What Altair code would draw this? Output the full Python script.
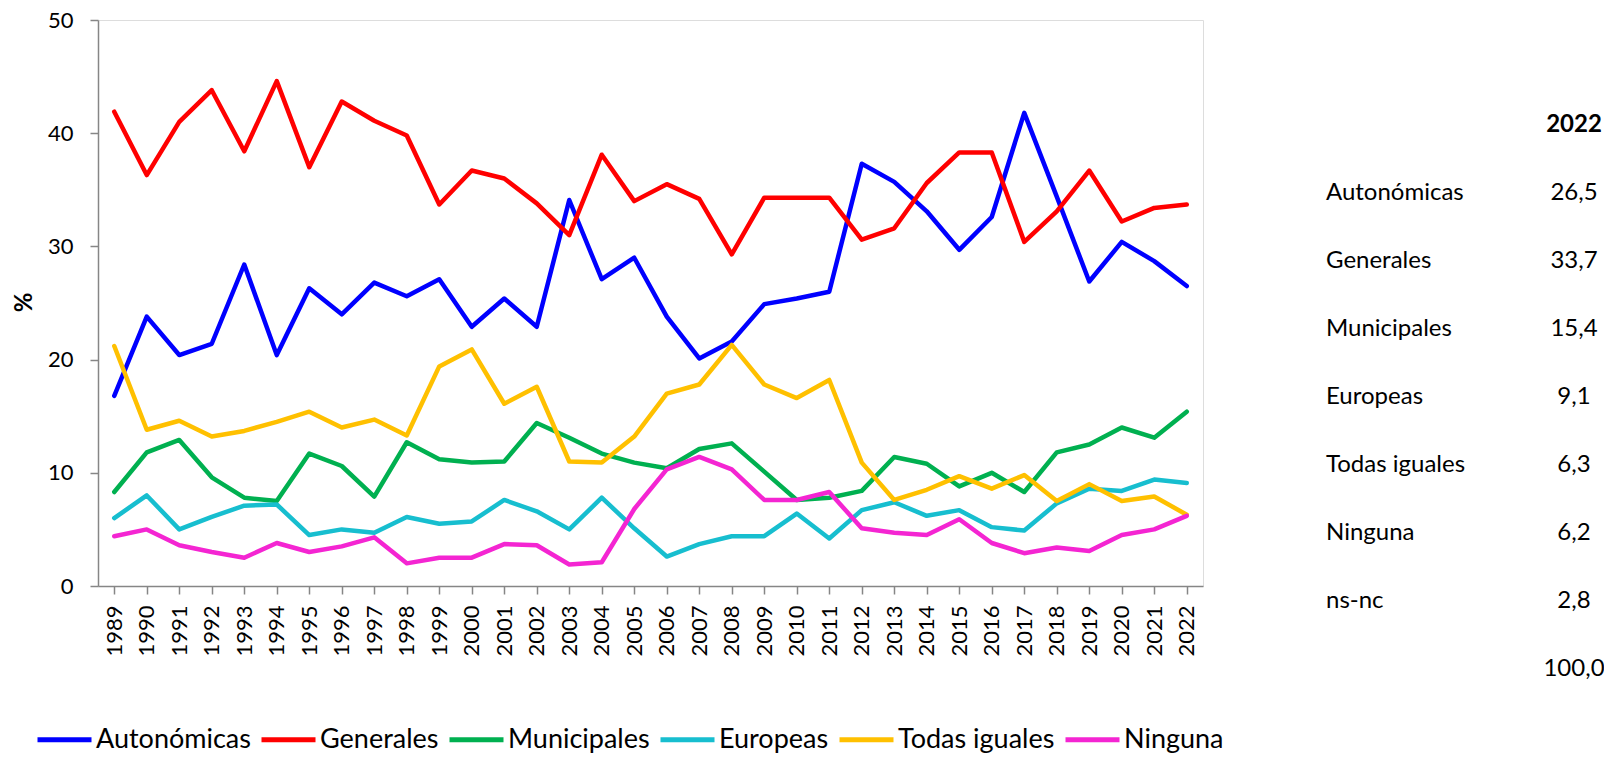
import altair as alt
import pandas as pd

# ---------------- data ----------------
years = list(range(1989, 2023))
series_names = ["Autonómicas", "Generales", "Municipales", "Europeas", "Todas iguales", "Ninguna"]
series_colors = ["#0000FF", "#FF0000", "#00B050", "#17BECF", "#FFC000", "#F425D2"]

autonomicas = [16.8, 23.8, 20.4, 21.4, 28.4, 20.4, 26.3, 24.0, 26.8, 25.6, 27.1, 22.9, 25.4, 22.9, 34.1, 27.1,
               29.0, 23.8, 20.1, 21.6, 24.9, 25.4, 26.0, 37.3, 35.7, 33.1, 29.7, 32.6, 41.8, 34.4, 26.9, 30.4, 28.7, 26.5]
generales = [41.9, 36.3, 41.0, 43.8, 38.4, 44.6, 37.0, 42.8, 41.1, 39.8, 33.7, 36.7, 36.0, 33.8, 31.0, 38.1,
             34.0, 35.5, 34.2, 29.3, 34.3, 34.3, 34.3, 30.6, 31.6, 35.6, 38.3, 38.3, 30.4, 33.1, 36.7, 32.2, 33.4, 33.7]
municipales = [8.3, 11.8, 12.9, 9.6, 7.8, 7.5, 11.7, 10.6, 7.9, 12.7, 11.2, 10.9, 11.0, 14.4, 13.1, 11.7,
               10.9, 10.4, 12.1, 12.6, 10.1, 7.6, 7.8, 8.4, 11.4, 10.8, 8.8, 10.0, 8.3, 11.8, 12.5, 14.0, 13.1, 15.4]
europeas = [6.0, 8.0, 5.0, 6.1, 7.1, 7.2, 4.5, 5.0, 4.7, 6.1, 5.5, 5.7, 7.6, 6.6, 5.0, 7.8,
            5.1, 2.6, 3.7, 4.4, 4.4, 6.4, 4.2, 6.7, 7.4, 6.2, 6.7, 5.2, 4.9, 7.3, 8.6, 8.4, 9.4, 9.1]
todas_iguales = [21.2, 13.8, 14.6, 13.2, 13.7, 14.5, 15.4, 14.0, 14.7, 13.3, 19.4, 20.9, 16.1, 17.6, 11.0, 10.9,
                 13.2, 17.0, 17.8, 21.3, 17.8, 16.6, 18.2, 10.9, 7.6, 8.5, 9.7, 8.6, 9.8, 7.5, 9.0, 7.5, 7.9, 6.3]
ninguna = [4.4, 5.0, 3.6, 3.0, 2.5, 3.8, 3.0, 3.5, 4.3, 2.0, 2.5, 2.5, 3.7, 3.6, 1.9, 2.1,
           6.8, 10.3, 11.4, 10.3, 7.6, 7.6, 8.3, 5.1, 4.7, 4.5, 5.9, 3.8, 2.9, 3.4, 3.1, 4.5, 5.0, 6.2]

y_ticks = [0, 10, 20, 30, 40, 50]

table_header = ["2022"]
table_labels = ["Autonómicas", "Generales", "Municipales", "Europeas", "Todas iguales", "Ninguna", "ns-nc"]
table_values = [26.5, 33.7, 15.4, 9.1, 6.3, 6.2, 2.8, 100.0]

# ---------------- frames ----------------
all_series = [autonomicas, generales, municipales, europeas, todas_iguales, ninguna]
rows = []
for k, (name, vals) in enumerate(zip(series_names, all_series)):
    for yr, v in zip(years, vals):
        rows.append({"series": name, "year": yr, "value": v, "k": k})
df = pd.DataFrame(rows)

header_df = pd.DataFrame({"row": [0], "col": [1], "text": table_header})
label_df = pd.DataFrame({"row": list(range(1, len(table_labels) + 1)), "col": 0, "text": table_labels})
value_df = pd.DataFrame({"row": list(range(1, len(table_values) + 1)), "col": 1,
                         "text": [f"{v:.1f}".replace(".", ",") for v in table_values]})

# ---------------- layout ----------------
W, H = 1105, 566
PAD_L, PAD_T = 90, 12
PAD_R = 1596 - PAD_L - W
PAD_B = 745 - PAD_T - H
FONT = "Lato"
AXIS_GREY = "#868686"

lines = alt.Chart(df).mark_line(strokeWidth=4.5, strokeJoin="round", strokeCap="round").encode(
    x=alt.X("year:O", scale=alt.Scale(type="point", padding=0.5),
            axis=alt.Axis(title=None, labelAngle=270, labelFontSize=22, labelPadding=11, tickSize=8,
                          domainColor=AXIS_GREY, tickColor=AXIS_GREY, domainWidth=1.5, tickWidth=1.5,
                          labelColor="black", grid=False, labelFont=FONT)),
    y=alt.Y("value:Q", scale=alt.Scale(domain=[0, 50], nice=False),
            axis=alt.Axis(values=y_ticks, title="%", titleFontSize=24, titleFontWeight="bold",
                          titleAngle=270, titleX=-74, titleY=282, titleAlign="center",
                          titleBaseline="middle", titleColor="black", titleFont=FONT,
                          labelFontSize=22, labelPadding=17, tickSize=8, labelColor="black",
                          domainColor=AXIS_GREY, tickColor=AXIS_GREY, domainWidth=1.5, tickWidth=1.5,
                          grid=False, labelFont=FONT)),
    color=alt.Color("series:N", scale=alt.Scale(domain=series_names, range=series_colors),
                    legend=alt.Legend(orient="none", legendX=-63, legendY=690, direction="horizontal",
                                      title=None, symbolType="stroke", symbolSize=2916,
                                      symbolStrokeWidth=5, labelFontSize=27, labelOffset=2,
                                      columnPadding=0, padding=0, labelLimit=0, labelColor="black",
                                      labelFont=FONT)),
    order=alt.Order("k:Q"),
)

x_tab = alt.Scale(domain=[0, 1], range=[1228, 1476])
y_tab = alt.Scale(domain=[0, 8], range=[105.4, 649.2])

header = alt.Chart(header_df).mark_text(align="center", baseline="middle", fontSize=24,
                                        fontWeight="bold", font=FONT, color="black").encode(
    x=alt.X("col:Q", scale=x_tab, axis=None),
    y=alt.Y("row:Q", scale=y_tab, axis=None),
    text="text:N",
)
labels = alt.Chart(label_df).mark_text(align="left", baseline="middle", fontSize=24,
                                       font=FONT, color="black").encode(
    x=alt.X("col:Q", scale=x_tab, axis=None),
    y=alt.Y("row:Q", scale=y_tab, axis=None),
    text="text:N",
)
values = alt.Chart(value_df).mark_text(align="center", baseline="middle", fontSize=24,
                                       font=FONT, color="black").encode(
    x=alt.X("col:Q", scale=x_tab, axis=None),
    y=alt.Y("row:Q", scale=y_tab, axis=None),
    text="text:N",
)

chart = alt.layer(lines, header, labels, values).resolve_scale(
    x="independent", y="independent"
).properties(
    width=W, height=H,
    autosize=alt.AutoSizeParams(type="none"),
    padding={"left": PAD_L, "top": PAD_T, "right": PAD_R, "bottom": PAD_B},
    background="white",
).configure_view(stroke=None).configure(font=FONT)

chart.save("out.html", embed_options={"renderer": "svg", "actions": False})
